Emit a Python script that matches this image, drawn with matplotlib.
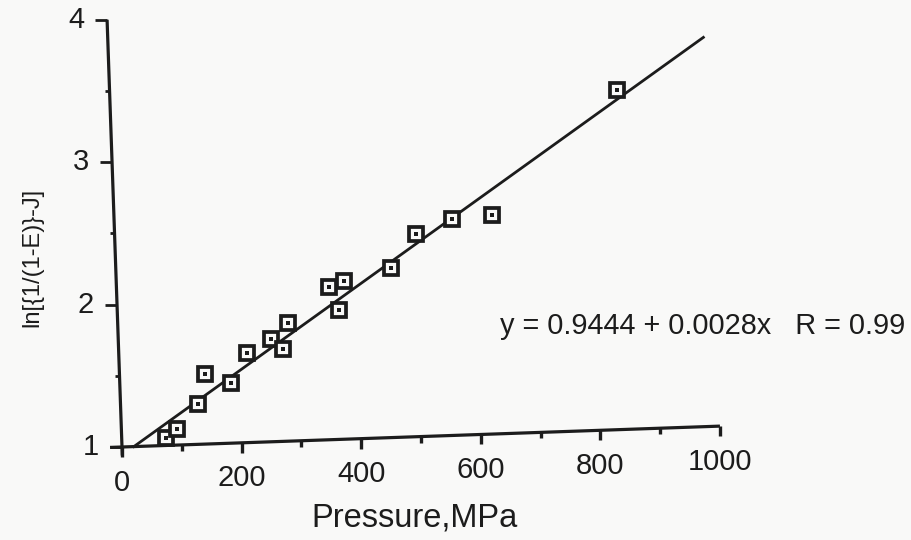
import matplotlib
matplotlib.use("Agg")
import matplotlib.pyplot as plt
from matplotlib.transforms import Affine2D

# data
pressure = [74, 93, 129, 143, 185, 215, 255, 274, 285, 355, 370, 380, 459, 503, 564, 631, 847]
ln_value = [1.05, 1.11, 1.28, 1.49, 1.42, 1.63, 1.72, 1.65, 1.83, 2.07, 1.91, 2.11,
            2.19, 2.42, 2.52, 2.54, 3.38]

x_major = [0, 200, 400, 600, 800, 1000]
x_minor = [100, 300, 500, 700, 900]
y_major = [1, 2, 3, 4]
y_minor = [1.5, 2.5, 3.5]

intercept = 0.9444
slope = 0.0028
fit_end = 995
equation = "y = 0.9444 + 0.0028x   R = 0.99"

ink = "#1c1c1c"
paper = "#f9f9f8"
plt.rcParams["font.family"] = ["Liberation Sans", "DejaVu Sans"]

W, H = 912, 540
fig = plt.figure(figsize=(W / 100, H / 100), dpi=100, facecolor=paper)
ox, oy = 122, H - 447  # pixel position of (0, 1)
ax = fig.add_axes([ox / W, oy / H, 598.3 / W, 427.5 / H])
ax.set_xlim(0, 1000)
ax.set_ylim(1, 4)
ax.axis("off")

# the scan is tilted by about 2 degrees
tr = ax.transData + Affine2D().rotate_deg_around(ox, oy, 2.0)

# axis lines
ax.plot([-20, 1000], [1, 1], color=ink, lw=2.3, transform=tr, clip_on=False,
        solid_capstyle="butt")
ax.plot([0, 0], [0.94, 4], color=ink, lw=2.3, transform=tr, clip_on=False,
        solid_capstyle="butt")

# ticks
ax.plot(x_major, [1] * len(x_major), ls="none", marker=3, ms=7.5, mew=2.4,
        color=ink, transform=tr, clip_on=False)
ax.plot(x_minor, [1] * len(x_minor), ls="none", marker=3, ms=4.5, mew=2.4,
        color=ink, transform=tr, clip_on=False)
ax.plot([0] * len(y_major), y_major, ls="none", marker=0, ms=8.5, mew=2.0,
        color=ink, transform=tr, clip_on=False)
ax.plot([0] * len(y_minor), y_minor, ls="none", marker=0, ms=3.5, mew=2.0,
        color=ink, transform=tr, clip_on=False)

for v in x_major:
    ax.annotate(str(v), xy=(v, 1), xycoords=tr, xytext=(0, -15.5),
                textcoords="offset points", ha="center", va="top",
                fontsize=21, color=ink)
for v in y_major:
    ax.annotate(str(v), xy=(0, v), xycoords=tr, xytext=(-16.5, 0),
                textcoords="offset points", ha="right", va="center",
                fontsize=21, color=ink)

# fitted line
fit_x = [(1 - intercept) / slope, fit_end]
fit_y = [intercept + slope * x for x in fit_x]
ax.plot(fit_x, fit_y, color=ink, lw=2.0, transform=tr, clip_on=False)

# data points: hollow squares with a dot in the middle
ax.plot(pressure, ln_value, ls="none", marker="s", ms=10.5, mew=2.7,
        mfc=paper, mec=ink, transform=tr, clip_on=False)
ax.plot(pressure, ln_value, ls="none", marker="s", ms=2.4, mew=0,
        color=ink, transform=tr, clip_on=False)

fig.text(905 / W, 1 - 326 / H, equation, ha="right", va="center",
         fontsize=20.8, color=ink)
fig.text(415 / W, 1 - 518 / H, "Pressure,MPa", ha="center", va="center",
         fontsize=23.5, color=ink)
fig.text(32 / W, 1 - 257 / H, "ln[{1/(1-E)}-J]", ha="center", va="center",
         rotation=90, fontsize=17, color=ink)

fig.savefig("out.png", dpi=100, facecolor=fig.get_facecolor())
